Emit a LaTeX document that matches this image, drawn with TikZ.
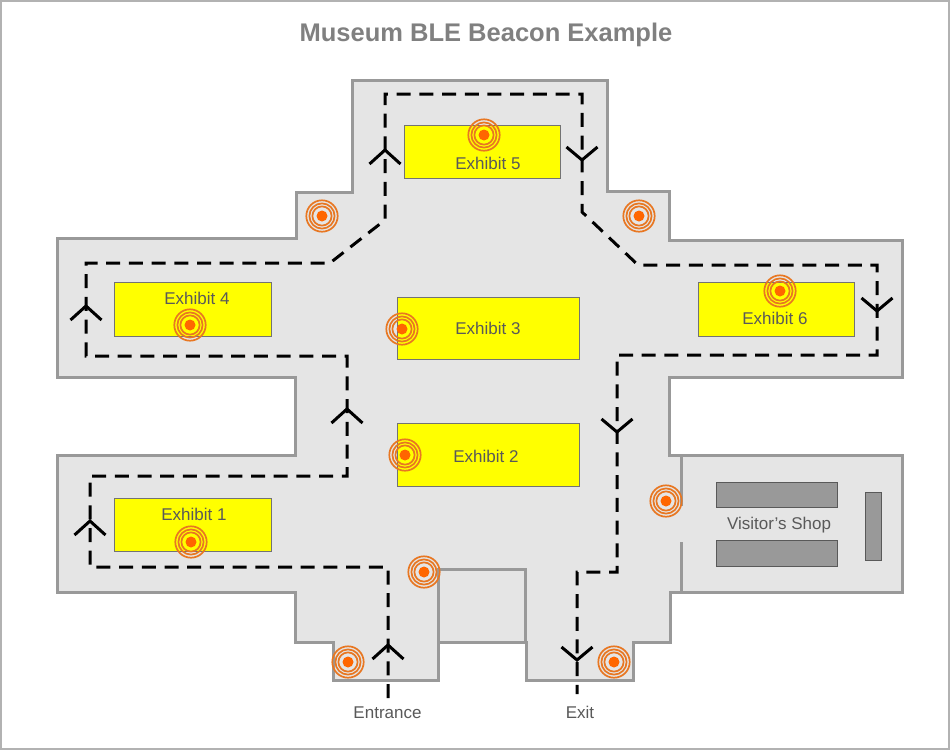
\documentclass[tikz,border=0pt]{standalone}
\usepackage{fontspec}
\setmainfont{Liberation Sans}
\usetikzlibrary{calc}
\definecolor{wallc}{HTML}{999999}
\definecolor{floorc}{HTML}{E5E5E5}
\definecolor{textc}{HTML}{595959}
\definecolor{ringc}{HTML}{E87722}
\definecolor{dotc}{HTML}{FF6600}
\definecolor{shelfc}{HTML}{999999}
\definecolor{exhibitc}{HTML}{FFFF00}
\tikzset{
  wall/.style={draw=wallc,line width=3pt,line join=miter},
  exhibit/.style={draw=black!55,fill=exhibitc,line width=1pt},
  shelf/.style={draw=black!65,fill=shelfc,line width=1pt},
  lbl/.style={text=textc,font=\fontsize{17}{19}\selectfont,inner sep=0pt},
  route/.style={draw=black,line width=3pt,dash pattern=on 14pt off 8.7pt},
  arrowmark/.style={draw=black,line width=3pt,line join=miter},
  ring/.style={draw=ringc,line width=1.7pt},
}
\newcommand{\beacon}[2]{%
  \coordinate (#1) at #2;
  \draw[ring] (#1) circle[radius=15.7];
  \draw[ring] (#1) circle[radius=12.6];
  \draw[ring] (#1) circle[radius=9.6];
  \fill[dotc] (#1) circle[radius=5.5];
}
\newcommand{\uparrowmark}[1]{\draw[arrowmark] ($#1+(-15.5,14)$) -- #1 -- ($#1+(15.5,14)$);}
\newcommand{\downarrowmark}[1]{\draw[arrowmark] ($#1+(-15.5,-13)$) -- #1 -- ($#1+(15.5,-13)$);}
\begin{document}
\begin{tikzpicture}[x=1pt,y=-1pt]
\useasboundingbox (0,0) rectangle (950,750);
\fill[white] (0,0) rectangle (950,750);
\draw[draw=black!30,line width=2.5pt] (1,1) rectangle (949,749);
\node[inner sep=0pt,text=black!50,font=\fontsize{25.5}{28}\selectfont\bfseries] (title) at (486,34.5) {Museum BLE Beacon Example};
% floor plan
\draw[wall,fill=floorc] (352,80) -- (607,80) -- (607,191) -- (669,191) -- (669,240) -- (902,240) -- (902,377) -- (669,377) -- (669,455) -- (902,455) -- (902,592) -- (670,592) -- (670,642) -- (633,642) -- (633,680) -- (526,680) -- (526,642) -- (438,642) -- (438,680) -- (333,680) -- (333,642) -- (295,642) -- (295,592) -- (57,592) -- (57,455) -- (295,455) -- (295,377) -- (57,377) -- (57,238) -- (296,238) -- (296,192) -- (352,192) -- cycle;
\draw[wall] (438,642) -- (438,569) -- (525,569) -- (525,642);
\draw[wall] (681,455) -- (681,506);
\draw[wall] (681,542) -- (681,592);
% shelves
\node[shelf,minimum width=121pt,minimum height=25pt,inner sep=0pt] (shelfa) at (776.5,494.5) {};
\node[shelf,minimum width=121pt,minimum height=26pt,inner sep=0pt] (shelfb) at (776.5,553) {};
\node[shelf,minimum width=16pt,minimum height=68pt,inner sep=0pt] (shelfd) at (873,526) {};
\node[lbl] (shop) at (779,525) {Visitor's Shop};
% exhibits
\node[exhibit,minimum width=156pt,minimum height=53pt,inner sep=0pt] (ex5) at (482,151.5) {};
\node[exhibit,minimum width=157pt,minimum height=54pt,inner sep=0pt] (ex4) at (192.5,309) {};
\node[exhibit,minimum width=182pt,minimum height=62pt,inner sep=0pt] (ex3) at (488,328) {};
\node[exhibit,minimum width=182pt,minimum height=63pt,inner sep=0pt] (ex2) at (488,454.5) {};
\node[exhibit,minimum width=157pt,minimum height=53pt,inner sep=0pt] (ex1) at (192.5,524.5) {};
\node[exhibit,minimum width=156pt,minimum height=54pt,inner sep=0pt] (ex6) at (776,309) {};
\node[lbl] (t5) at (488,163) {Exhibit 5};
\node[lbl] (t4) at (197,298) {Exhibit 4};
\node[lbl] (t3) at (488,328) {Exhibit 3};
\node[lbl] (t2) at (486,456) {Exhibit 2};
\node[lbl] (t1) at (194,514) {Exhibit 1};
\node[lbl] (t6) at (775,318) {Exhibit 6};
\node[lbl,anchor=base] (entrance) at (387.5,718) {Entrance};
\node[lbl,anchor=base] (exit) at (580,718) {Exit};
% route
\coordinate (in) at (388,698);
\coordinate (out) at (577,694);
\draw[route] (in) -- (388,567) -- (90,567) -- (90,476) -- (347,476) -- (347,356) -- (86,356) -- (86,263) -- (330,263) -- (385,220) -- (385,94) -- (582,94) -- (582,212) -- (638,265) -- (877,265) -- (877,355) -- (617,355) -- (617,572) -- (577,572) -- (out);
% direction marks
\uparrowmark{(388,645)}
\uparrowmark{(90,521)}
\uparrowmark{(347,409)}
\uparrowmark{(86,306)}
\uparrowmark{(385,150)}
\downarrowmark{(582,160)}
\downarrowmark{(877,311)}
\downarrowmark{(617,432)}
\downarrowmark{(577,660)}
% beacons
\beacon{b1}{(322,216)}
\beacon{b2}{(639,216)}
\beacon{b3}{(484,135)}
\beacon{b4}{(190,325)}
\beacon{b5}{(780,291)}
\beacon{b6}{(402,329)}
\beacon{b7}{(405,455)}
\beacon{b8}{(191,542)}
\beacon{b9}{(424,572)}
\beacon{b10}{(348,662)}
\beacon{b11}{(614,662)}
\beacon{b12}{(666,501)}
\end{tikzpicture}
\end{document}
